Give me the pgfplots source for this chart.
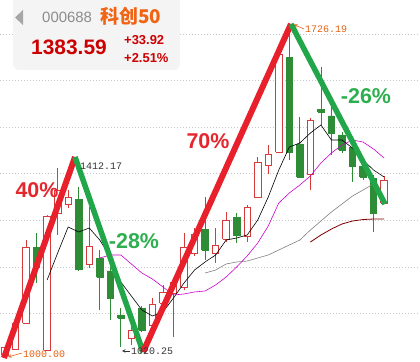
\documentclass[border=0pt]{standalone}
\usepackage{pgfplots}
\pgfplotsset{compat=1.18}
\usepackage{fontspec}
\setmainfont{Liberation Sans}
\newfontfamily\mono{Liberation Mono}
\newfontfamily\cjk{Noto Sans CJK SC}
\definecolor{cup}{HTML}{D63A3A}
\definecolor{cdn}{HTML}{2E8B36}
\definecolor{tred}{HTML}{E8202C}
\definecolor{tgreen}{HTML}{22A64A}
\definecolor{lred}{HTML}{E4262E}
\definecolor{lgreen}{HTML}{2EAF4F}
\definecolor{gridc}{HTML}{C8C8C8}
\definecolor{orangel}{HTML}{E06010}
\definecolor{darkl}{HTML}{333333}
\definecolor{magma}{HTML}{CC00CC}
\definecolor{grayma}{HTML}{808080}
\definecolor{darkma}{HTML}{800000}
\definecolor{hbox}{HTML}{F4F4F4}
\definecolor{hcode}{HTML}{8C8C8C}
\definecolor{hname}{HTML}{F06414}
\definecolor{hprice}{HTML}{CC0000}
\pgfplotsset{
  candleup/.style={draw=cup, fill=white, line width=0.8bp},
  candleupwick/.style={draw=cup, line width=0.8bp},
  candledn/.style={draw=cdn, fill=cdn, line width=0.8bp},
  candlednwick/.style={draw=cdn, line width=0.8bp},
}
% #1 style, #2 position, #3 low, #4 body bottom, #5 body top, #6 high
\newcommand{\cndl}[6]{%
  \pgfmathsetmacro\xl{#2-0.31}\pgfmathsetmacro\xr{#2+0.31}%
  \addplot[#1wick] coordinates {(#2,#3) (#2,#6)};
  \addplot[#1] coordinates {(\xl,#4) (\xr,#4) (\xr,#5) (\xl,#5) (\xl,#4)};
}
\begin{document}
\begin{tikzpicture}
\useasboundingbox (0,0) rectangle (420bp,362bp);
\begin{axis}[at={(0,0)}, anchor=south west, scale only axis,
  width=420bp, height=362bp,
  xmin=-0.475, xmax=39.41, ymin=986.86, ymax=1779.64,
  axis line style={draw=none},
  xtick=\empty,
  ytick={1094.2,1194.9,1297.8,1400.8,1501.5,1603.3,1705.2},
  yticklabels={}, major tick length=0pt,
  ymajorgrids,
  grid style={draw=gridc, line width=0.9bp, dash pattern=on 1bp off 2bp},
]
% rising candles: position, low, open, close, high
\cndl{candleup}{0}{1000.0}{1002.2}{1019.7}{1024.1}
\cndl{candleup}{1}{1013.1}{1015.3}{1072.3}{1076.6}
\cndl{candleup}{2}{1070.1}{1072.3}{1238.7}{1254.0}
\cndl{candleup}{4}{1010.9}{1013.1}{1306.6}{1308.8}
\cndl{candleup}{5}{1265.0}{1313.2}{1363.5}{1412.17}
\cndl{candleup}{6}{1324.1}{1332.9}{1348.2}{1363.5}
\cndl{candleup}{8}{1192.7}{1201.5}{1240.9}{1326.3}
\cndl{candleup}{12}{1024.1}{1039.4}{1057.0}{1067.9}
\cndl{candleup}{14}{1057.0}{1067.9}{1113.9}{1127.0}
\cndl{candleup}{15}{1111.7}{1116.1}{1140.2}{1155.5}
\cndl{candleup}{16}{1041.6}{1137.9}{1162.1}{1166.4}
\cndl{candleup}{17}{1144.5}{1151.1}{1238.7}{1269.4}
\cndl{candleup}{18}{1219.0}{1225.6}{1267.2}{1280.3}
\cndl{candleup}{20}{1203.7}{1225.6}{1243.1}{1280.3}
\cndl{candleup}{21}{1249.6}{1256.2}{1297.8}{1315.4}
\cndl{candleup}{23}{1249.6}{1262.8}{1326.3}{1330.7}
\cndl{candleup}{24}{1348.2}{1348.2}{1424.9}{1435.8}
\cndl{candleup}{25}{1398.6}{1418.3}{1442.4}{1462.1}
\cndl{candleup}{26}{1446.8}{1446.8}{1661.4}{1663.6}
\cndl{candleup}{29}{1363.5}{1398.6}{1516.8}{1521.2}
\cndl{candleup}{36}{1335.1}{1335.1}{1383.59}{1394.2}
% falling candles: position, low, close, open, high
\cndl{candledn}{3}{1159.9}{1194.9}{1238.7}{1269.4}
\cndl{candledn}{7}{1186.2}{1190.5}{1343.8}{1370.1}
\cndl{candledn}{9}{1100.7}{1173.0}{1214.6}{1232.1}
\cndl{candledn}{10}{1078.8}{1127.0}{1186.2}{1194.9}
\cndl{candledn}{11}{1020.25}{1083.2}{1089.8}{1105.1}
\cndl{candledn}{13}{1052.6}{1057.0}{1105.1}{1109.5}
\cndl{candledn}{19}{1210.2}{1232.1}{1278.1}{1348.2}
\cndl{candledn}{22}{1247.5}{1265.0}{1304.4}{1313.2}
\cndl{candledn}{27}{1429.2}{1446.8}{1654.8}{1726.19}
\cndl{candledn}{28}{1392.0}{1392.0}{1464.3}{1523.4}
\cndl{candledn}{30}{1505.9}{1534.4}{1540.9}{1632.9}
\cndl{candledn}{31}{1440.2}{1488.4}{1525.6}{1545.3}
\cndl{candledn}{32}{1444.9}{1451.1}{1484.0}{1490.6}
\cndl{candledn}{33}{1381.1}{1416.1}{1457.7}{1466.5}
\cndl{candledn}{34}{1384.5}{1392.0}{1416.1}{1429.2}
\cndl{candledn}{35}{1271.6}{1313.2}{1389.8}{1396.4}
% moving averages
\addplot[black, line width=0.6bp] coordinates {
(4,1166.4) (5,1225.6) (6,1282.5) (7,1271.6) (8,1280.3) (9,1254.0) (10,1216.8)
(11,1162.1) (12,1131.4) (13,1100.7) (14,1087.6) (15,1096.4) (16,1127.0) (17,1159.9)
(18,1188.3) (19,1205.9) (20,1221.2) (21,1254.0) (22,1258.4) (23,1265.0) (24,1297.8)
(25,1348.2) (26,1407.3) (27,1457.7) (28,1466.5) (29,1488.4) (30,1505.9) (31,1473.0)
(32,1473.0) (33,1455.5) (34,1429.2) (35,1407.3) (36,1392.0)};
\addplot[magma, line width=0.6bp] coordinates {
(9,1214.6) (10,1221.2) (11,1221.2) (12,1201.5) (13,1181.7) (14,1168.6) (15,1151.1)
(16,1133.6) (17,1135.8) (18,1140.2) (19,1142.4) (20,1155.5) (21,1173.0) (22,1195.0)
(23,1219.0) (24,1247.5) (25,1284.7) (26,1335.1) (27,1357.0) (28,1374.5) (29,1394.2)
(30,1422.7) (31,1444.6) (32,1462.1) (33,1473.0) (34,1468.6) (35,1453.3) (36,1433.6)};
\addplot[grayma, line width=0.6bp] coordinates {
(19,1181.7) (20,1188.3) (21,1201.5) (22,1205.9) (23,1208.0) (24,1214.6) (25,1221.2)
(26,1232.1) (27,1243.1) (28,1254.0) (29,1275.9) (30,1295.6) (31,1315.4) (32,1332.9)
(33,1350.4) (34,1363.5) (35,1376.7)};
\addplot[darkma, line width=0.8bp] coordinates {
(29,1249.6) (30,1265.0) (31,1278.1) (32,1289.1) (33,1295.6) (34,1298.9) (35,1300.0) (36,1300.0)};
% trend lines
\addplot[tred, line width=6bp] coordinates {(-0.1,995.6) (6.65,1435.8)};
\addplot[tgreen, line width=5.5bp] coordinates {(6.65,1435.8) (13.11,1008.8)};
\addplot[tred, line width=6bp] coordinates {(13.11,1008.8) (27.16,1727.1)};
\addplot[tgreen, line width=5.5bp] coordinates {(27.16,1727.1) (36.09,1332.9)};
\end{axis}
\begin{scope}[x=1bp, y=-1bp, shift={(0,362bp)}]
% header box
\fill[hbox, rounded corners=6bp] (13,-8) rectangle (180,70);
\fill[gray!70] (23,10) -- (23,25) -- (15,17.5) -- cycle;
\node[anchor=west, text=hcode, font=\fontsize{15}{17}\selectfont, inner sep=0] at (42,17.5) {000688};
\node[anchor=west, text=hname, font=\cjk\bfseries\fontsize{19}{21}\selectfont, inner sep=0] at (100,16.5) {科创50};
\node[anchor=west, text=hprice, font=\bfseries\fontsize{21}{23}\selectfont, inner sep=0] at (31,47.5) {1383.59};
\node[anchor=west, text=hprice, font=\bfseries\fontsize{13}{15}\selectfont, inner sep=0] at (124,40) {+33.92};
\node[anchor=west, text=hprice, font=\bfseries\fontsize{13}{15}\selectfont, inner sep=0] at (124,58) {+2.51\%};
% percentage labels
\node[text=lred, font=\bfseries\fontsize{21.5}{24}\selectfont] at (37,190) {40\%};
\node[text=lgreen, font=\bfseries\fontsize{21.5}{24}\selectfont] at (134,241) {-28\%};
\node[text=lred, font=\bfseries\fontsize{21.5}{24}\selectfont] at (208,141) {70\%};
\node[text=lgreen, font=\bfseries\fontsize{21.5}{24}\selectfont] at (366,96) {-26\%};
% price labels
\node[anchor=west, text=darkl, font=\mono\fontsize{10}{12}\selectfont, inner sep=0] at (80,166) {1412.17};
\draw[orangel, line width=0.6bp, -stealth] (22,353) -- (8,357);
\node[anchor=west, text=orangel, font=\mono\fontsize{10}{12}\selectfont, inner sep=0] at (23,354) {1000.00};
\draw[darkl, line width=0.6bp, -stealth] (130,351) -- (122,351);
\node[anchor=west, text=darkl, font=\mono\fontsize{10}{12}\selectfont, inner sep=0] at (131,351) {1020.25};
\draw[orangel, line width=0.6bp, -stealth] (304,29) -- (294,24.5);
\node[anchor=west, text=orangel, font=\mono\fontsize{10}{12}\selectfont, inner sep=0] at (305,29) {1726.19};
\end{scope}
\end{tikzpicture}
\end{document}
